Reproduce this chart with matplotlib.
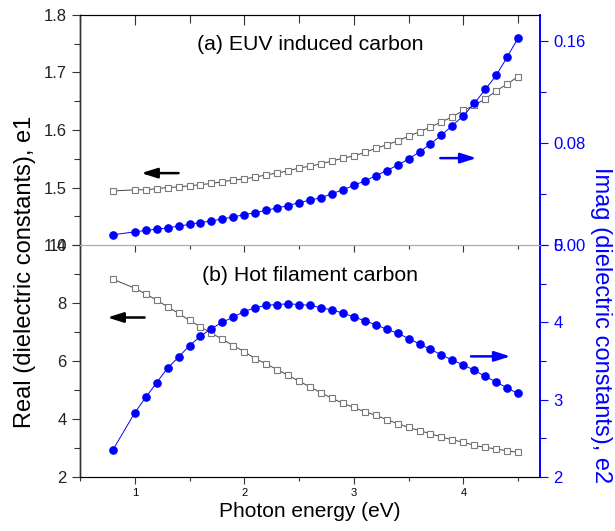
import matplotlib
matplotlib.use("Agg")
import matplotlib.pyplot as plt
from matplotlib.ticker import MultipleLocator

plt.rcParams['font.family'] = ['Liberation Sans', 'DejaVu Sans']

energy = [0.8, 1.0, 1.1, 1.2, 1.3, 1.4, 1.5, 1.6, 1.7, 1.8, 1.9, 2.0, 2.1, 2.2, 2.3,
          2.4, 2.5, 2.6, 2.7, 2.8, 2.9, 3.0, 3.1, 3.2, 3.3, 3.4, 3.5, 3.6, 3.7, 3.8,
          3.9, 4.0, 4.1, 4.2, 4.3, 4.4, 4.5]

euv_e1 = [1.494, 1.496, 1.496, 1.498, 1.500, 1.501, 1.503, 1.505, 1.507, 1.510,
          1.513, 1.515, 1.518, 1.522, 1.525, 1.529, 1.534, 1.537, 1.541, 1.546,
          1.551, 1.555, 1.561, 1.568, 1.574, 1.581, 1.589, 1.597, 1.605, 1.614,
          1.623, 1.634, 1.643, 1.654, 1.668, 1.680, 1.693]

euv_e2 = [0.0080, 0.0103, 0.0114, 0.0124, 0.0134, 0.0148, 0.0161, 0.0176, 0.0188,
          0.0204, 0.0219, 0.0238, 0.0253, 0.0272, 0.0290, 0.0308, 0.0332, 0.0351,
          0.0370, 0.0401, 0.0432, 0.0466, 0.0502, 0.0541, 0.0583, 0.0624, 0.0673,
          0.0728, 0.0790, 0.0860, 0.0935, 0.1012, 0.1108, 0.1217, 0.1328, 0.1470,
          0.1621]

hf_e1 = [8.82, 8.51, 8.31, 8.10, 7.87, 7.64, 7.40, 7.18, 6.96, 6.75, 6.53, 6.32,
         6.08, 5.90, 5.70, 5.51, 5.30, 5.11, 4.90, 4.72, 4.54, 4.40, 4.25, 4.13,
         3.98, 3.84, 3.71, 3.60, 3.49, 3.38, 3.28, 3.20, 3.09, 3.02, 2.97, 2.90,
         2.85]

hf_e2 = [2.35, 2.83, 3.03, 3.22, 3.41, 3.55, 3.70, 3.82, 3.92, 4.00, 4.07, 4.14,
         4.19, 4.22, 4.23, 4.24, 4.23, 4.22, 4.19, 4.16, 4.12, 4.07, 4.02, 3.97,
         3.91, 3.86, 3.79, 3.72, 3.65, 3.58, 3.51, 3.45, 3.38, 3.30, 3.23, 3.15,
         3.08]

x_ticks = [1, 2, 3, 4]
blue = '#0000ff'
gray = '#7a7a7a'
dark = '#333333'

fig = plt.figure(figsize=(6.15, 5.31), dpi=100)
L, W = 80 / 615, 460 / 615
ax1 = fig.add_axes([L, 1 - 245 / 531, W, 230 / 531])
ax2 = fig.add_axes([L, 1 - 477 / 531, W, 232 / 531])
ax1r = ax1.twinx()
ax2r = ax2.twinx()

sq = dict(marker='s', ms=4.6, mfc='white', mec=gray, mew=0.8, color='#444444', lw=0.7)
ci = dict(marker='o', ms=5.2, mfc=blue, mec=blue, color=blue, lw=0.7)

ax1.plot(energy, euv_e1, **sq)
ax1r.plot(energy, euv_e2, **ci)
ax2.plot(energy, hf_e1, **sq)
ax2r.plot(energy, hf_e2, **ci)

for ax in (ax1, ax2):
    ax.set_xlim(0.5, 4.7)
    ax.set_xticks(x_ticks)
    ax.xaxis.set_minor_locator(MultipleLocator(0.5))

ax1.set_ylim(1.4, 1.8)
ax1.yaxis.set_major_locator(MultipleLocator(0.1))
ax1.yaxis.set_minor_locator(MultipleLocator(0.05))
ax1r.set_ylim(0, 0.18)
ax1r.set_yticks([0.0, 0.08, 0.16])
ax1r.set_yticklabels(['0.00', '0.08', '0.16'])
ax1r.yaxis.set_minor_locator(MultipleLocator(0.04))

ax2.set_ylim(2, 10)
ax2.set_yticks([2, 4, 6, 8, 10])
ax2.yaxis.set_minor_locator(MultipleLocator(1))
ax2r.set_ylim(2, 5)
ax2r.set_yticks([2, 3, 4, 5])
ax2r.yaxis.set_minor_locator(MultipleLocator(0.5))

# spines
for a in (ax1, ax1r):
    a.spines['bottom'].set_visible(False)
for a in (ax2, ax2r):
    a.spines['top'].set_color('#aaaaaa')
    a.spines['top'].set_linewidth(0.8)
for a in (ax1, ax1r, ax2, ax2r):
    a.spines['right'].set_color(blue)
    a.spines['right'].set_linewidth(1.2)
    a.spines['left'].set_linewidth(1.0)
    a.spines['left'].set_color(dark)
ax1.spines['top'].set_color(dark)
ax2.spines['bottom'].set_color(dark)

# x ticks: top panel has inward ticks on its top edge only
ax1.tick_params(axis='x', which='both', bottom=False, top=True, direction='in',
                labelbottom=False, labeltop=False, colors=dark, width=0.8)
ax1.tick_params(axis='x', which='major', length=7)
ax1.tick_params(axis='x', which='minor', length=6)
# bottom panel: ticks below the separator and outward at bottom
ax2.tick_params(axis='x', which='both', bottom=True, top=True, direction='out',
                colors=dark, width=0.8)
ax2.tick_params(axis='x', which='major', length=5, labelsize=8, pad=3, labelcolor='black')
ax2.tick_params(axis='x', which='minor', length=3)
for t in ax2.xaxis.get_major_ticks() + ax2.xaxis.get_minor_ticks():
    t.tick2line.set_marker(3)

for a in (ax1, ax2):
    a.tick_params(axis='y', which='major', length=6, width=0.8, labelsize=12,
                  direction='out', colors=dark, labelcolor='#222222')
    a.tick_params(axis='y', which='minor', length=4, width=0.8, direction='out', colors=dark)
for a in (ax1r, ax2r):
    a.tick_params(axis='y', which='major', length=6, width=0.8, labelsize=12, colors=blue)
    a.tick_params(axis='y', which='minor', length=4, width=0.8, colors=blue)

# labels
fig.text(0.040, 1 - 272 / 531, 'Real (dielectric constants), e1',
         rotation=90, ha='center', va='center', fontsize=17, color='black')
fig.text(0.978, 1 - 325 / 531, 'Imag (dielectric constants), e2',
         rotation=270, ha='center', va='center', fontsize=17, color=blue)
ax2.set_xlabel('Photon energy (eV)', fontsize=15, labelpad=3)

ax1.text(0.5, 0.87, '(a) EUV induced carbon', transform=ax1.transAxes,
         ha='center', va='center', fontsize=15.3)
ax2.text(0.5, 0.87, '(b) Hot filament carbon', transform=ax2.transAxes,
         ha='center', va='center', fontsize=15.3)

# direction arrows
arrow_k = dict(arrowstyle='-|>,head_length=0.95,head_width=0.3', color='black', lw=1.8,
               shrinkA=0, shrinkB=0)
arrow_b = dict(arrowstyle='-|>,head_length=0.95,head_width=0.3', color=blue, lw=1.8,
               shrinkA=0, shrinkB=0)
ax1.annotate('', xy=(1.06, 1.525), xytext=(1.40, 1.525), arrowprops=arrow_k)
ax1r.annotate('', xy=(4.12, 0.068), xytext=(3.79, 0.068), arrowprops=arrow_b)
ax2.annotate('', xy=(0.75, 7.5), xytext=(1.09, 7.5), arrowprops=arrow_k)
ax2r.annotate('', xy=(4.43, 3.56), xytext=(4.07, 3.56), arrowprops=arrow_b)

fig.savefig('out.png', dpi=100)
